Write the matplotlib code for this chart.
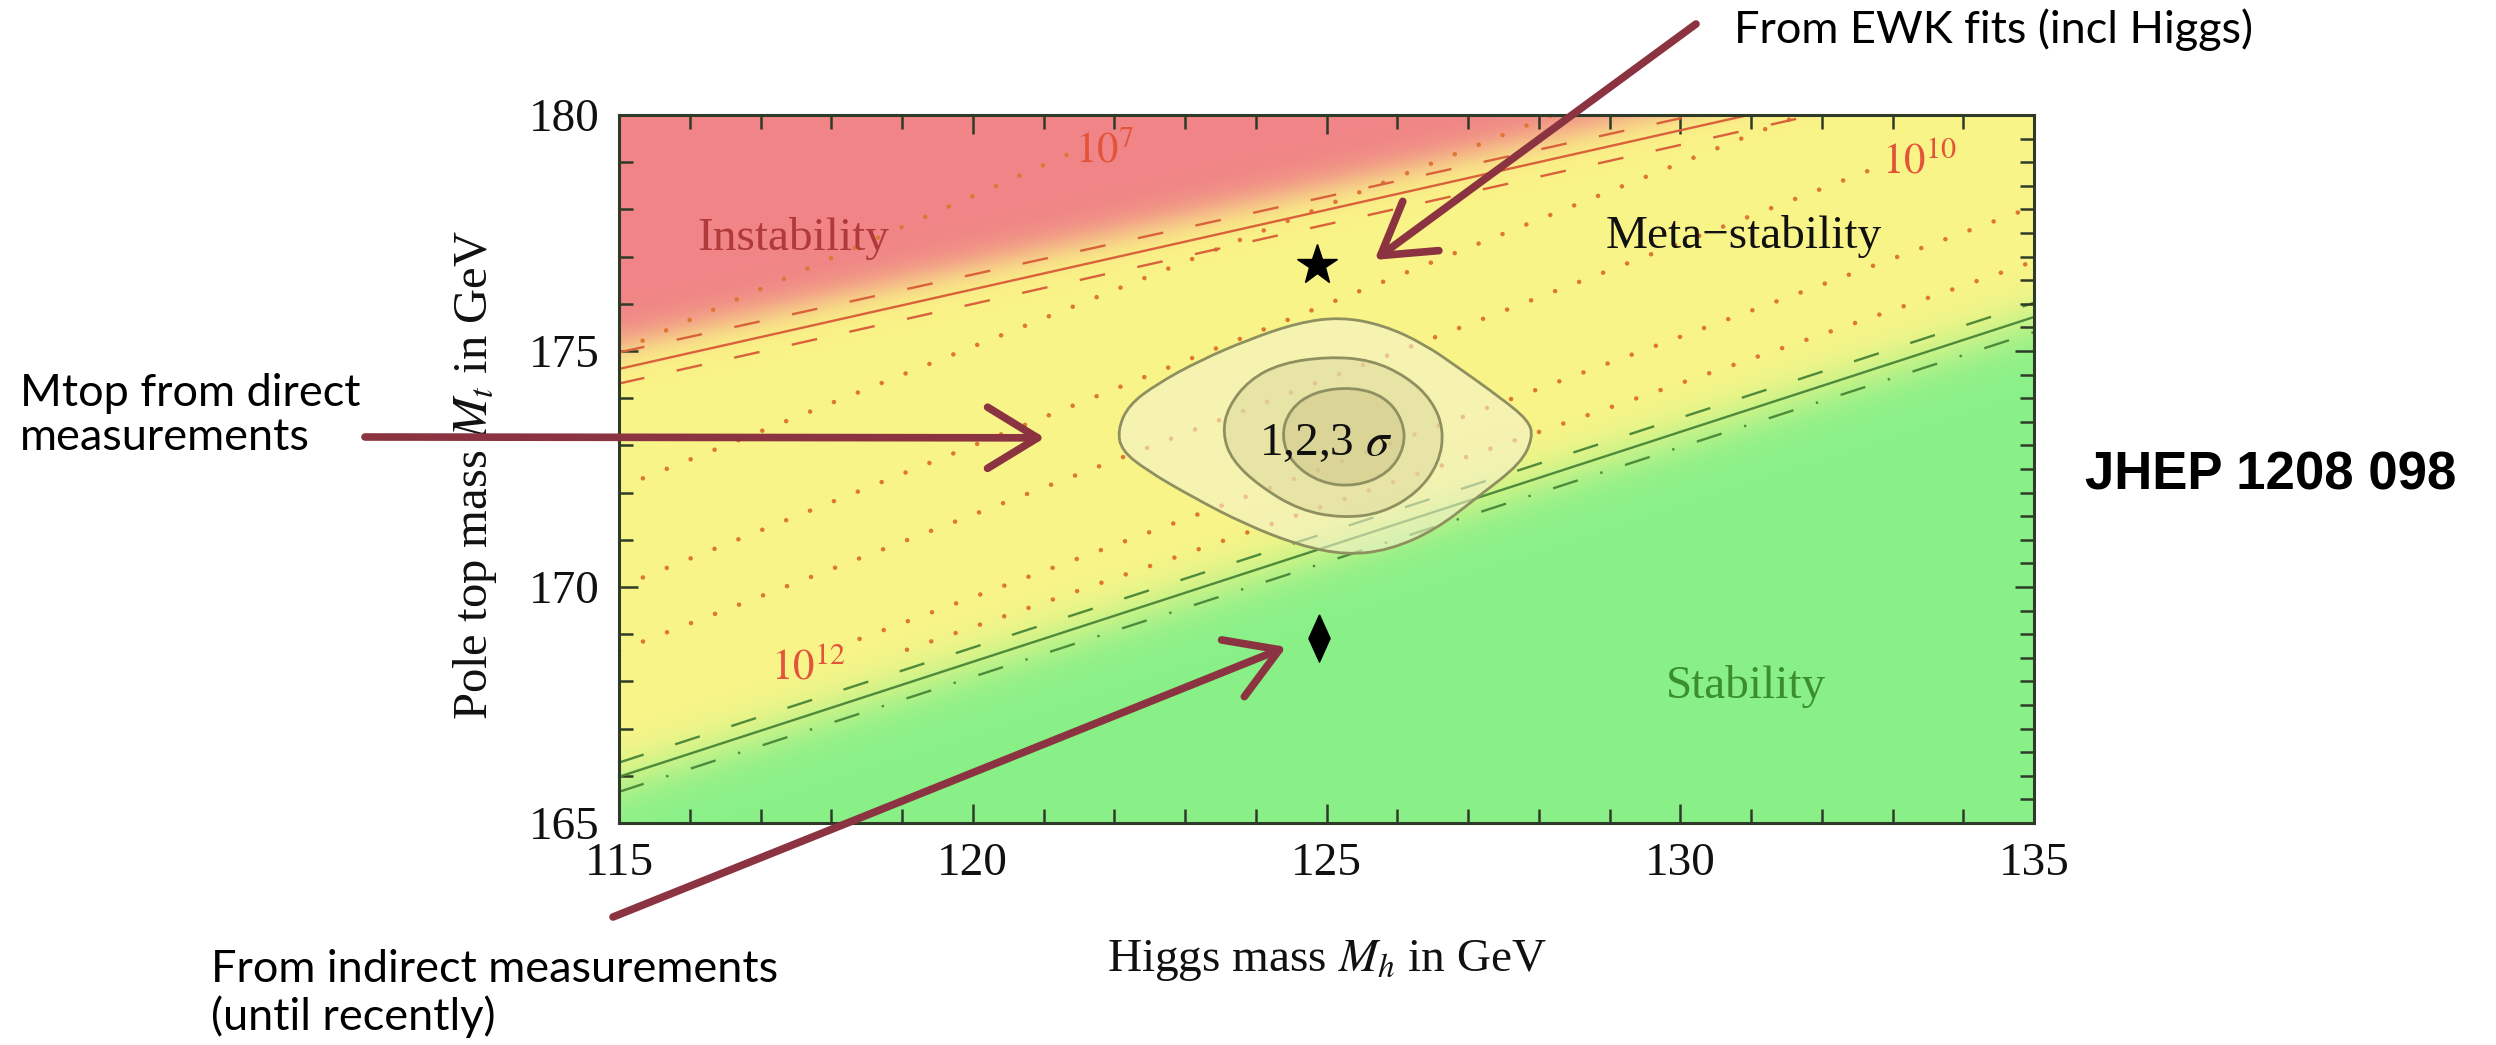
import numpy as np
import matplotlib
matplotlib.use("Agg")
from matplotlib import pyplot as plt
from matplotlib.path import Path
from matplotlib.patches import PathPatch
from matplotlib.ticker import MultipleLocator

plt.rcParams['font.family'] = ['Liberation Serif', 'DejaVu Serif']
plt.rcParams['mathtext.fontset'] = 'stix'

W, H = 2496, 1045

# axes
mh_lim = [115, 135]
mt_lim = [165, 180]
mh_ticks = [115, 120, 125, 130, 135]
mt_ticks = [165, 170, 175, 180]

# instability boundary (alpha_s band)
inst_mh = [115.0, 125.0, 135.0]
inst_mt = [174.62, 177.99, 181.36]
inst_hi_mt = [174.97, 178.27, 181.59]
inst_lo_mt = [174.31, 177.68, 181.05]

# stability boundary (alpha_s band)
stab_mh = [115.0, 135.0]
stab_mt = [165.98, 175.72]
stab_hi_mt = [166.28, 176.02]
stab_lo_mt = [165.66, 175.40]

# instability scale contours (dotted), start/end points
dot_mh0 = [115.0, 115.0, 115.0, 115.0, 118.4, 119.07]
dot_mt0 = [175.0, 172.1, 170.0, 168.65, 168.9, 168.67]
dot_mh1 = [121.4, 128.2, 131.7, 132.68, 135.0, 135.0]
dot_mt1 = [179.2, 180.0, 180.0, 178.83, 178.06, 176.9]
dot_labels = ['$10^{7}$', '$10^{10}$', '$10^{12}$']
dot_label_mh = [121.45, 132.85, 117.15]
dot_label_mt = [179.0, 178.75, 168.05]

# 1,2,3 sigma regions (outline points)
s3_mh = [122.05, 122.20, 122.60, 123.21, 123.91, 124.60, 125.20, 125.80, 126.38, 126.89,
         127.44, 127.85, 127.92, 127.75, 127.14, 126.54, 125.88, 125.27, 124.62, 123.86,
         123.10, 122.45, 122.10]
s3_mt = [173.33, 173.85, 174.30, 174.80, 175.25, 175.60, 175.72, 175.55, 175.15, 174.62,
         174.03, 173.54, 173.18, 172.62, 171.91, 171.21, 170.78, 170.68, 170.88, 171.32,
         171.91, 172.48, 172.90]
s2_mh = [123.53, 123.61, 123.91, 124.36, 125.02, 125.63, 126.13, 126.49, 126.66, 126.59,
         126.28, 125.78, 125.22, 124.62, 124.06, 123.66]
s2_mt = [173.26, 173.82, 174.39, 174.74, 174.88, 174.81, 174.46, 173.96, 173.33, 172.62,
         171.99, 171.56, 171.46, 171.63, 172.13, 172.69]
s1_mh = [124.36, 124.47, 124.82, 125.38, 125.83, 126.08, 126.11, 125.88, 125.42, 124.92, 124.51]
s1_mt = [173.18, 173.75, 174.14, 174.24, 174.03, 173.54, 172.97, 172.41, 172.13, 172.20, 172.62]

# measured points
ewk_point = (124.86, 176.82)
indirect_point = (124.89, 168.92)

# arrows: tip (data) and tail (figure pixels from top-left)
arrow_tips = [(125.68, 176.93), (121.02, 173.16), (124.43, 168.73)]
arrow_tails = [(1696, 24), (365, 437), (613, 917)]

red = np.array([240, 132, 134]) / 255
yellow = np.array([250, 245, 136]) / 255
green = np.array([137, 240, 137]) / 255

fig = plt.figure(figsize=(W / 100, H / 100), dpi=100)
ax = fig.add_axes([619 / W, 1 - 823 / H, (2034 - 619) / W, (823 - 115) / H])

# background colours graded around the boundaries
gx = np.linspace(mh_lim[0], mh_lim[1], 900)
gy = np.linspace(mt_lim[0], mt_lim[1], 700)
X, Y = np.meshgrid(gx, gy)
li = np.interp(X, inst_mh, inst_mt)
ls = np.interp(X, stab_mh, stab_mt)
tr = 1 / (1 + np.exp(-(Y - li - 0.5) / 0.22))
tg = 1 / (1 + np.exp(-(ls - Y - 0.1) / 0.32))
img = yellow * (1 - tr - tg)[..., None] + red * tr[..., None] + green * tg[..., None]
ax.imshow(np.clip(img, 0, 1), extent=[*mh_lim, *mt_lim], origin='lower', aspect='auto', zorder=0)

# dotted contours
dot_col = '#E07636'
for x0, y0, x1, y1 in zip(dot_mh0, dot_mt0, dot_mh1, dot_mt1):
    ax.plot([x0, x1], [y0, y1], color=dot_col, lw=3.3, linestyle=(0, (0.01, 5.6)),
            dash_capstyle='round', zorder=2)
for lab, x, y in zip(dot_labels, dot_label_mh, dot_label_mt):
    ax.text(x, y, lab, color='#E2553A', fontsize=31, ha='left', va='baseline', zorder=3)

# boundaries
inst_col = '#D9623C'
ax.plot(inst_mh, inst_mt, color=inst_col, lw=1.7, zorder=2)
ax.plot(inst_mh, inst_hi_mt, color=inst_col, lw=1.7, linestyle=(0, (11, 14)), zorder=2)
ax.plot(inst_mh, inst_lo_mt, color=inst_col, lw=1.7, linestyle=(0, (11, 14)), zorder=2)
stab_col = '#4E8A3A'
ax.plot(stab_mh, stab_mt, color=stab_col, lw=1.7, zorder=2)
ax.plot(stab_mh, stab_hi_mt, color=stab_col, lw=1.7, linestyle=(0, (11, 14)), zorder=2)
ax.plot(stab_mh, stab_lo_mt, color=stab_col, lw=1.7, linestyle=(0, (11, 10, 1, 10)), zorder=2)


def smooth_closed(xs, ys):
    pts = np.column_stack([xs, ys])
    n = len(pts)
    mids = (pts + np.roll(pts, -1, axis=0)) / 2
    verts = [mids[-1]]
    codes = [Path.MOVETO]
    for i in range(n):
        verts += [pts[i], mids[i]]
        codes += [Path.CURVE3, Path.CURVE3]
    return Path(verts, codes)


sig_fill = ['#F4F1CC', '#D8D39A', '#CEC78A']
sig_alpha = [0.6, 0.45, 0.5]
for (xs, ys), fc, a in zip([(s3_mh, s3_mt), (s2_mh, s2_mt), (s1_mh, s1_mt)], sig_fill, sig_alpha):
    p = smooth_closed(xs, ys)
    ax.add_patch(PathPatch(p, facecolor=fc, alpha=a, edgecolor='none', zorder=3))
    ax.add_patch(PathPatch(p, facecolor='none', edgecolor='#8F9060', lw=2.0, zorder=3))

# region labels
ax.text(116.1, 177.14, 'Instability', color='#B03A3A', fontsize=34, va='baseline')
ax.text(128.95, 177.18, 'Meta\u2212stability', color='#111111', fontsize=34, va='baseline')
ax.text(129.79, 167.65, 'Stability', color='#3A8E2E', fontsize=34, va='baseline')
ax.text(124.04, 172.8, r'1,2,3 $\sigma$', color='#111111', fontsize=34, va='baseline', zorder=4)

# points
ax.plot(*ewk_point, marker='*', color='black', ms=30, zorder=5)
ax.plot(*indirect_point, marker=[(0, 1), (0.45, 0), (0, -1), (-0.45, 0), (0, 1)],
        color='black', ms=34, zorder=5)

ax.set_xlim(mh_lim)
ax.set_ylim(mt_lim)
ax.set_xticks(mh_ticks)
ax.set_yticks(mt_ticks)
ax.xaxis.set_minor_locator(MultipleLocator(1))
ax.yaxis.set_minor_locator(MultipleLocator(1))
frame_col = '#2E3B28'
ax.tick_params(which='both', direction='in', top=True, right=False, colors=frame_col,
               labelcolor='#111111', labelsize=34, width=1.8)
ax.tick_params(which='major', length=14, pad=14)
ax.tick_params(which='minor', length=10)
for s in ax.spines.values():
    s.set_color(frame_col)
    s.set_linewidth(2.2)

ax2 = ax.twinx()
ax2.set_ylim(mt_lim)
ax2.set_yticks(mt_ticks)
ax2.yaxis.set_minor_locator(MultipleLocator(0.5))
ax2.tick_params(which='both', direction='in', colors=frame_col, labelright=False, width=1.8)
ax2.tick_params(which='major', length=14)
ax2.tick_params(which='minor', length=10)
for s in ax2.spines.values():
    s.set_visible(False)

ax.set_xlabel(r'Higgs mass $M_h$ in GeV', fontsize=34, color='#111111', labelpad=38)
ax.text(-0.093, 0.492, r'Pole top mass $\boldsymbol{M_t}$ in GeV', transform=ax.transAxes,
        fontsize=35, color='#111111', rotation=90, rotation_mode='anchor',
        ha='center', va='baseline')

# annotations outside the plot
note_font = ['Lato', 'DejaVu Sans']
fig.text(1734 / W, 1 - 43 / H, 'From EWK fits (incl Higgs)', family=note_font, fontsize=32.5, va='baseline')
fig.text(20 / W, 1 - 450 / H, 'Mtop from direct\nmeasurements', family=note_font, fontsize=32.5,
         va='baseline', linespacing=1.1)
fig.text(211 / W, 1 - 1030 / H, 'From indirect measurements\n(until recently)', family=note_font,
         fontsize=32.5, va='baseline', linespacing=1.15)
fig.text(2085 / W, 1 - 490 / H, 'JHEP 1208 098', family=['Liberation Sans', 'DejaVu Sans'],
         fontsize=38, fontweight='bold', va='baseline')

arrow_col = '#8C3341'
for tip, tail in zip(arrow_tips, arrow_tails):
    ax.annotate('', xy=tip, xycoords='data', xytext=(tail[0], H - tail[1]), textcoords='figure pixels',
                arrowprops=dict(arrowstyle='->, head_length=0.9, head_width=0.55', color=arrow_col,
                                lw=5.5, mutation_scale=40, shrinkA=0, shrinkB=0),
                annotation_clip=False, zorder=6)

fig.savefig('out.png', dpi=100)
